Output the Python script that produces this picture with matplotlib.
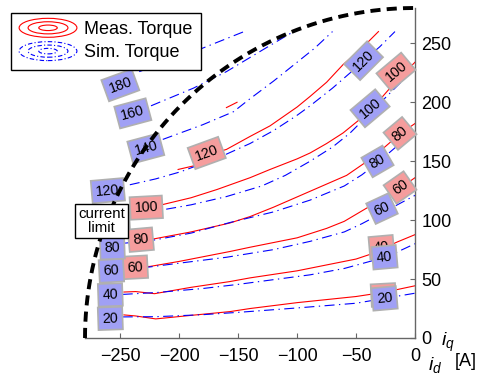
import numpy as np
import matplotlib
matplotlib.use("Agg")
import matplotlib.pyplot as plt
from matplotlib.legend_handler import HandlerBase
from matplotlib.patches import Ellipse, Patch

plt.rcParams['font.family'] = ['Liberation Sans', 'DejaVu Sans']
plt.rcParams['mathtext.fontset'] = 'custom'
plt.rcParams['mathtext.it'] = 'Liberation Sans:italic'
plt.rcParams['mathtext.rm'] = 'Liberation Sans'

# ---------------- data (i_d, i_q in A) ----------------
# measured torque contours (Nm)
meas_20_id = [-247, -237, -220, -190, -157, -140, -100, -75, -50, -25, 0]
meas_20_iq = [19.6, 18.7, 16.2, 19.2, 22.4, 25.0, 30.0, 32.6, 35.2, 39.0, 44.3]
meas_40_id = [-247, -237, -221, -190, -157, -140, -100, -75, -50, -35, -28, -15, 0]
meas_40_iq = [39.0, 39.4, 37.6, 43.0, 47.9, 51.0, 57.0, 62.0, 67.0, 72.0, 75.5, 81.5, 87.7]
meas_60_id = [-240, -225, -200, -157, -140, -100, -75, -60, -38, -20, -12, 0]
meas_60_iq = [60.5, 60.7, 65.0, 73.4, 77.0, 85.0, 93.0, 99.0, 112.0, 122.0, 127.7, 136.0]
meas_80_id = [-222, -190, -157, -140, -120, -89, -58, -42, -28, -13, 0]
meas_80_iq = [84.0, 90.0, 97.6, 103.0, 111.0, 124.5, 138.0, 149.0, 160.0, 173.0, 182.0]
meas_100_id = [-215, -190, -168, -140, -123, -100, -89, -75, -61, -45, -30, -16, 0]
meas_100_iq = [113, 119, 126, 136, 143, 152, 157, 165, 174, 187, 202, 218, 234]
meas_120_id = [-201, -188, -177, -160, -140, -123, -100, -89, -75, -61, -45, -31]
meas_120_iq = [143, 146, 155, 160, 171, 180, 196, 205, 217, 232, 246, 260]
meas_140_id = [-160, -151]
meas_140_iq = [195.5, 200.0]

# simulated torque contours (Nm)
sim_20_id = [-248, -219, -180, -148, -100, -75, -50, -26, 0]
sim_20_iq = [17.9, 18.1, 19.8, 21.9, 25.5, 27.5, 29.5, 33.6, 38.0]
sim_40_id = [-248, -219, -180, -150, -120, -89, -60, -40, -26, -15, 0]
sim_40_iq = [37.0, 38.6, 42.0, 45.5, 49.5, 53.6, 59.0, 64.5, 68.5, 73.0, 80.0]
sim_60_id = [-248, -225, -200, -160, -120, -89, -60, -45, -28, -15, 0]
sim_60_iq = [57.0, 60.3, 63.5, 68.5, 75.0, 82.0, 90.0, 97.0, 106.0, 113.0, 121.0]
sim_80_id = [-246, -222, -190, -157, -120, -89, -60, -45, -32, -18, 0]
sim_80_iq = [80.5, 83.0, 89.0, 98.0, 107.0, 117.0, 129.0, 138.5, 148.5, 160.5, 176.0]
sim_100_id = [-245, -215, -190, -160, -130, -110, -89, -70, -55, -38, -24, -10, 0]
sim_100_iq = [104, 108.6, 113, 120, 129, 138, 150, 162, 174, 191, 205, 219, 228]
sim_120_id = [-242, -220, -199, -175, -160, -140, -120, -100, -89, -70, -55, -44, -30, -17]
sim_120_iq = [130, 135, 141, 150, 156, 165, 176, 189, 197, 212, 225, 235, 247, 260]
sim_140_id = [-214, -180, -154, -140, -120, -100, -85, -70]
sim_140_iq = [168.5, 181, 192, 203, 218, 234, 246, 260]
sim_160_id = [-224, -188, -160, -140, -120, -103]
sim_160_iq = [197, 212, 226, 238, 250, 260]
sim_180_id = [-234, -200, -170, -145]
sim_180_iq = [226, 238, 250, 260]

current_limit = 280  # A

# contour label texts and placements
meas_label_txt = ['60', '80', '100', '120', '100', '80', '60', '40', '20']
meas_label_id = [-237.3, -232.6, -228.0, -176.7, -16.1, -12.7, -12.7, -28.4, -26.8]
meas_label_iq = [60.0, 83.4, 110.6, 157.0, 226.0, 173.6, 127.7, 77.0, 36.5]
meas_label_rot = [3, 5, 3, 20, 40, 40, 35, 5, 3]

sim_label_txt = ['20', '40', '60', '80', '100', '120', '140', '160', '180',
                 '120', '100', '80', '60', '40', '20']
sim_label_id = [-258.5, -258.5, -257.6, -256.8, -256.0, -260.6, -228.4, -239.4, -250.0,
                -43.6, -38.1, -31.8, -28.0, -25.8, -25.8]
sim_label_iq = [16.6, 36.6, 57.0, 76.6, 101.0, 125.0, 160.9, 190.6, 214.5,
                235.3, 194.9, 149.8, 109.8, 68.5, 33.6]
sim_label_rot = [2, 2, 3, 2, 3, 5, 15, 15, 20, 45, 40, 30, 25, 5, 5]

meas_curves = [(meas_20_id, meas_20_iq), (meas_40_id, meas_40_iq), (meas_60_id, meas_60_iq),
               (meas_80_id, meas_80_iq), (meas_100_id, meas_100_iq), (meas_120_id, meas_120_iq),
               (meas_140_id, meas_140_iq)]
sim_curves = [(sim_20_id, sim_20_iq), (sim_40_id, sim_40_iq), (sim_60_id, sim_60_iq),
              (sim_80_id, sim_80_iq), (sim_100_id, sim_100_iq), (sim_120_id, sim_120_iq),
              (sim_140_id, sim_140_iq), (sim_160_id, sim_160_iq), (sim_180_id, sim_180_iq)]

# ---------------- figure ----------------
W, H = 478, 382
fig = plt.figure(figsize=(W / 100, H / 100), dpi=100)
ax = fig.add_axes([85 / W, 44 / H, 330 / W, 330 / H])
ax.set_xlim(-280, 0)
ax.set_ylim(0, 280)

RED = '#ff0000'
BLUE = '#0000ff'
dashdot = (0, (9, 4, 1.2, 4))

for xs, ys in meas_curves:
    ax.plot(xs, ys, color=RED, lw=0.8, zorder=2)
for xs, ys in sim_curves:
    ax.plot(xs, ys, color=BLUE, lw=0.8, ls=dashdot, zorder=2)

for t, x, y, r in zip(meas_label_txt, meas_label_id, meas_label_iq, meas_label_rot):
    ax.text(x, y, t, fontsize=10.3, rotation=r, ha='center', va='center',
            rotation_mode='anchor', zorder=4,
            bbox=dict(boxstyle='square,pad=0.3', fc='#f59d9d', ec='#b0b0b0', lw=1.2))
for t, x, y, r in zip(sim_label_txt, sim_label_id, sim_label_iq, sim_label_rot):
    ax.text(x, y, t, fontsize=10.3, rotation=r, ha='center', va='center',
            rotation_mode='anchor', zorder=5,
            bbox=dict(boxstyle='square,pad=0.3', fc='#a0a0f5', ec='#b0b0b0', lw=1.2))

theta = np.linspace(0, np.pi / 2, 200)
ax.plot(-current_limit * np.cos(theta), current_limit * np.sin(theta), color='black',
        lw=2.8, ls=(0, (2.6, 1.6)), zorder=6, clip_on=False)

ax.text(-265.7, 99.1, 'current\nlimit', fontsize=10.8, ha='center', va='center',
        linespacing=0.95, zorder=8,
        bbox=dict(boxstyle='square,pad=0.2', fc='white', ec='black', lw=1.0))

# axes styling
AXC = '#666666'
for s in ['left', 'top']:
    ax.spines[s].set_visible(False)
for s in ['right', 'bottom']:
    ax.spines[s].set_color(AXC)
    ax.spines[s].set_linewidth(1.0)
ax.yaxis.tick_right()
ax.set_xticks([-250, -200, -150, -100, -50, 0])
ax.set_xticklabels(['\u2212250', '\u2212200', '\u2212150', '\u2212100', '\u221250', '0'])
ax.set_yticks([0, 50, 100, 150, 200, 250])
ax.tick_params(axis='both', direction='in', length=3.5, color=AXC, labelsize=13,
               labelcolor='black')
ax.tick_params(axis='x', pad=7)
ax.tick_params(axis='y', pad=4.5)

fig.text(441 / W, 1 - 342 / H, r'$i_q$', fontsize=14, ha='left', va='center')
fig.text(428 / W, 1 - 365 / H, r'$i_d$', fontsize=14, ha='left', va='center')
fig.text(455 / W, 1 - 362 / H, '[A]', fontsize=13, ha='left', va='center')


class ContourIcon(HandlerBase):
    def __init__(self, color, ls):
        super().__init__()
        self.color = color
        self.ls = ls

    def create_artists(self, legend, orig_handle, xdescent, ydescent, width, height,
                       fontsize, trans):
        cx = -xdescent + width / 2
        cy = -ydescent + height / 2
        arts = []
        for fw, fh in ((1.0, 1.0), (0.69, 0.64), (0.32, 0.29)):
            e = Ellipse((cx, cy), width * fw, height * 1.5 * fh, fill=False,
                        ec=self.color, lw=0.8, ls=self.ls, transform=trans)
            arts.append(e)
        return arts


h1 = Patch(label='Meas. Torque')
h2 = Patch(label='Sim. Torque')
leg = fig.legend(handles=[h1, h2], loc='upper left', bbox_to_anchor=(11 / W, 1 - 13 / H),
                 borderaxespad=0, fontsize=13, handlelength=3.2, handleheight=0.7,
                 handletextpad=0.4, borderpad=0.45, labelspacing=0.35, fancybox=False,
                 framealpha=1, edgecolor='black',
                 handler_map={h1: ContourIcon(RED, '-'), h2: ContourIcon(BLUE, (0, (4, 2, 1, 2)))})
leg.get_frame().set_linewidth(1.0)

fig.savefig('out.png', dpi=100)
